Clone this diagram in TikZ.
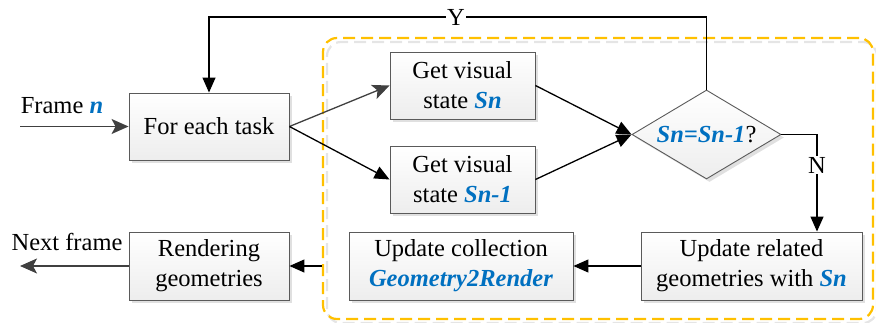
\documentclass[tikz,border=0pt]{standalone}
\usepackage{fontspec}
\setmainfont{Liberation Serif}
\usetikzlibrary{arrows.meta,shapes.geometric,shadows}
\definecolor{myblue}{RGB}{0,112,192}
\definecolor{myorange}{RGB}{255,192,0}
\definecolor{dgray}{RGB}{64,64,64}
\definecolor{bordergray}{RGB}{90,90,90}
\newcommand\bluebi[1]{\textcolor{myblue}{\textbf{\textit{#1}}}}
\tikzset{
  procbox/.style={draw=bordergray, line width=0.9pt, top color=white, bottom color=black!7,
    minimum width=#1, minimum height=67pt, inner sep=0pt, align=center,
    drop shadow={shadow xshift=3pt, shadow yshift=-3pt, fill=black!12, opacity=1}},
  decbox/.style={diamond, draw=bordergray, line width=0.9pt, top color=white, bottom color=black!7,
    aspect=1.67, minimum width=149pt, minimum height=89pt, inner sep=0pt, align=center,
    drop shadow={shadow xshift=3pt, shadow yshift=-3pt, fill=black!12, opacity=1}},
  blackarrow/.style={line width=1.3pt, black, -{Triangle[length=15pt,width=13pt]}},
  grayarrow/.style={line width=1.3pt, dgray, -{Stealth[length=17pt,width=15pt,inset=4pt]}},
  container/.style={draw=myorange, line width=2.2pt, dash pattern=on 12pt off 6pt, rounded corners=14pt,
    minimum width=550pt, minimum height=281pt, inner sep=0pt},
  containershadow/.style={draw=black!10, line width=2.2pt, dash pattern=on 12pt off 6pt, rounded corners=14pt},
  lbl/.style={inner sep=1pt, fill=white},
  txt/.style={font=\rmfamily\fontsize{24.5}{30}\selectfont},
}
\begin{document}
\begin{tikzpicture}[x=1pt,y=1pt, every node/.style={txt}]
\useasboundingbox (0,0) rectangle (876,322);
% container shadow and container
\draw[containershadow] (327,-1) rectangle (877,280);
\node[container] (box) at (598,143.5) {};
% nodes
\node[procbox=160pt] (task) at (209,195.5) {For each task};
\node[procbox=145pt] (sn) at (462.5,236.5) {Get visual\\state \bluebi{Sn}};
\node[procbox=145pt] (sn1) at (462.5,142.5) {Get visual\\state \bluebi{Sn-1}};
\node[decbox] (dec) at (706.5,187.5) {\bluebi{Sn=Sn-1}?};
\node[procbox=221pt, minimum height=68pt] (upd) at (751.5,56) {Update related\\geometries with \bluebi{Sn}};
\node[procbox=224pt, minimum height=68pt] (coll) at (461,56) {Update collection\\\bluebi{Geometry2Render}};
\node[procbox=160pt, minimum height=68pt] (rend) at (209,56) {Rendering\\geometries};
% free ends
\coordinate (fstart) at (20,195.5);
\coordinate (fend) at (20,56);
\coordinate (ytop) at (0,305);
\coordinate (ncorner) at (817,187.5);
% labels
\node (framelbl) at (62,216) {Frame \bluebi{n}};
\node (nextlbl) at (67,80) {Next frame};
% connectors
\draw[grayarrow] (fstart) -- (task.west);
\draw[grayarrow] (rend.west) -- (fend);
\draw[grayarrow] (task.east) -- (sn.west);
\draw[blackarrow] (task.east) -- (sn1.west);
\draw[blackarrow] (sn.east) -- (dec.west);
\draw[blackarrow] (sn1.east) -- (dec.west);
\draw[blackarrow] (dec.north) -- (dec.north |- ytop) -- (task.north |- ytop) -- (task.north);
\node[lbl] (ylbl) at (456,305) {Y};
\draw[blackarrow] (dec.east) -- (ncorner) -- (ncorner |- upd.north);
\node[lbl] (nlbl) at (817,157) {N};
\draw[blackarrow] (upd.west) -- (coll.east);
\draw[blackarrow] (box.west |- rend.east) -- (rend.east);
\end{tikzpicture}
\end{document}
